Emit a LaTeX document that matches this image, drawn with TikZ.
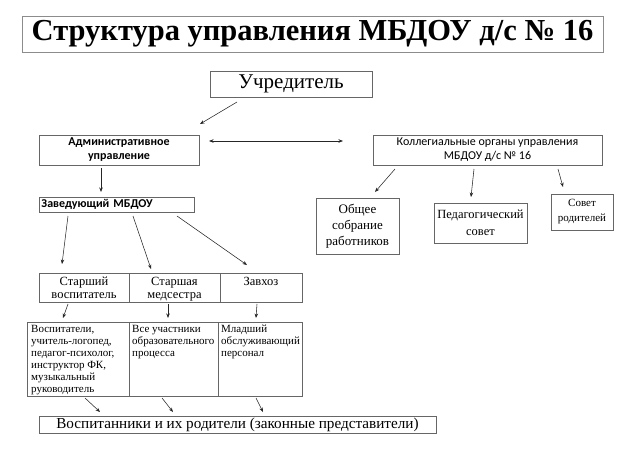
\documentclass[tikz,border=0pt]{standalone}
\usepackage{fontspec}
\setmainfont{Liberation Serif}
\newfontfamily\calib{Carlito}
\usetikzlibrary{arrows.meta}
\tikzset{
  box/.style={draw=black!60, line width=0.6pt, inner sep=0pt, outer sep=0pt},
  celltext/.style={inner sep=0pt, align=center},
  arr/.style={-{Stealth[length=4.5pt,width=3.5pt]}, line width=0.55pt, black!85},
  darr/.style={{Stealth[length=4.5pt,width=3.5pt]}-{Stealth[length=4.5pt,width=3.5pt]}, line width=0.55pt, black!85},
}
\newcommand{\fs}[2]{\fontsize{#1}{#2}\selectfont}
\newcommand{\topstrut}{\rule{0pt}{10pt}}
\begin{document}
\begin{tikzpicture}[x=1pt,y=-1pt]
\useasboundingbox (0,0) rectangle (640,453);
% title
\node[box, draw=black!45, minimum width=581pt, minimum height=36pt, font=\fs{30.5}{34}\bfseries] (title) at (312.5,34) {Структура управления МБДОУ д/с № 16};
\node[box, minimum width=162pt, minimum height=26pt, font=\fs{21}{23}] (uchr) at (291,84) {Учредитель};
\node[box, minimum width=160pt, minimum height=30pt, align=center, font=\calib\fs{12}{14}\bfseries] (adm) at (119,150) {Административное\\управление};
\node[box, minimum width=229pt, minimum height=30pt, align=center, font=\calib\fs{12}{14}] (kol) at (487.5,150) {Коллегиальные органы управления\\МБДОУ д/с № 16};
\node[box, minimum width=155pt, minimum height=15pt, text width=150pt, align=left, font=\calib\fs{12}{14}\bfseries] (zav) at (116.5,204.5) {Заведующий МБДОУ};
\node[box, minimum width=83pt, minimum height=56pt, align=center, font=\fs{13}{16}] (obsh) at (357.5,226) {Общее\\собрание\\работников};
\node[box, minimum width=93pt, minimum height=40pt, align=center, font=\fs{12.5}{17}] (ped) at (480.5,223) {Педагогический\\совет};
\node[box, minimum width=62pt, minimum height=36pt, align=center, font=\fs{11}{15}] (sov) at (582,212) {Совет\\родителей};
% upper table
\node[box, minimum width=90pt, minimum height=29pt, anchor=north west] (st1) at (39,273) {};
\node[box, minimum width=91pt, minimum height=29pt, anchor=north west] (st2) at (129,273) {};
\node[box, minimum width=82pt, minimum height=29pt, anchor=north west] (st3) at (220,273) {};
\node[celltext, anchor=north, font=\fs{12.5}{13}] (st1t) at (84,275) {\topstrut Старший\\воспитатель};
\node[celltext, anchor=north, font=\fs{12.5}{13}] (st2t) at (174.5,275) {\topstrut Старшая\\медсестра};
\node[celltext, anchor=north, font=\fs{12.5}{13}] (st3t) at (261,275) {\topstrut Завхоз};
% lower table
\node[box, minimum width=102pt, minimum height=74pt, anchor=north west] (lt1) at (27,322) {};
\node[box, minimum width=89pt, minimum height=74pt, anchor=north west] (lt2) at (129,322) {};
\node[box, minimum width=84pt, minimum height=74pt, anchor=north west] (lt3) at (218,322) {};
\node[anchor=north west, inner sep=0pt, align=left, font=\fs{11}{12}] (lt1t) at (31,325) {Воспитатели,\\учитель-логопед,\\педагог-психолог,\\инструктор ФК,\\музыкальный\\руководитель};
\node[anchor=north west, inner sep=0pt, align=left, font=\fs{11}{12}] (lt2t) at (132,325) {Все участники\\образовательного\\процесса};
\node[anchor=north west, inner sep=0pt, align=left, font=\fs{11}{12}] (lt3t) at (221,325) {Младший\\обслуживающий\\персонал};
\node[box, minimum width=397pt, minimum height=17pt, font=\fs{15.2}{17}] (vosp) at (237.5,424.5) {Воспитанники и их родители (законные представители)};
% arrow end points
\coordinate (a1) at (237,102); \coordinate (a2) at (200,124);
\coordinate (b1) at (209,141); \coordinate (b2) at (343,141);
\coordinate (c1) at (101,168); \coordinate (c2) at (101,192);
\coordinate (d1) at (68,216); \coordinate (d2) at (62,264);
\coordinate (e1) at (133,216); \coordinate (e2) at (151,269);
\coordinate (f1) at (177,216); \coordinate (f2) at (247,265);
\coordinate (g1) at (395,169); \coordinate (g2) at (375,192);
\coordinate (h1) at (474,169); \coordinate (h2) at (471,197);
\coordinate (i1) at (558,169); \coordinate (i2) at (563,187);
\coordinate (j1) at (68,304); \coordinate (j2) at (63,318);
\coordinate (k1) at (168,304); \coordinate (k2) at (168,318);
\coordinate (l1) at (257,304); \coordinate (l2) at (256,318);
\coordinate (m1) at (85,398); \coordinate (m2) at (100,412);
\coordinate (n1) at (162,398); \coordinate (n2) at (173,412);
\coordinate (o1) at (256,398); \coordinate (o2) at (263,412);
\draw[arr] (a1) -- (a2);
\draw[darr] (b1) -- (b2);
\foreach \p in {c,d,e,f,g,h,i,j,k,l,m,n,o} \draw[arr] (\p1) -- (\p2);
\end{tikzpicture}
\end{document}
